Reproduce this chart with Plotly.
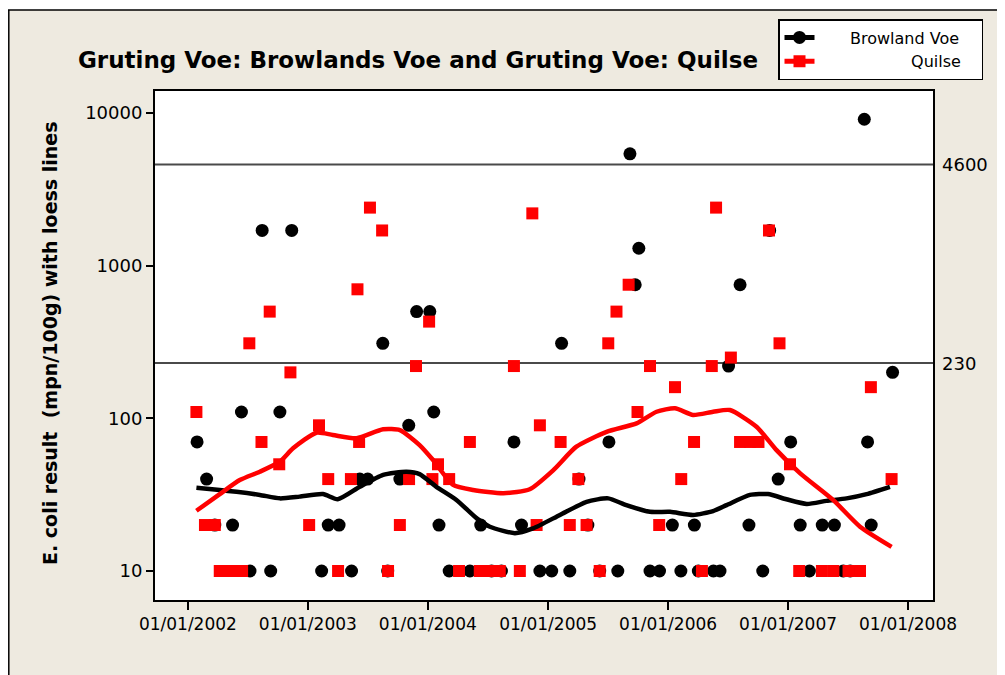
import numpy as np
import plotly.graph_objects as go

# ---------------- data ----------------
browland_dates = [
    "2002-01-29", "2002-02-27", "2002-03-24", "2002-05-17", "2002-06-13", "2002-07-09",
    "2002-08-15", "2002-09-10", "2002-10-08", "2002-11-13", "2003-02-12", "2003-03-04",
    "2003-04-06", "2003-05-14", "2003-06-08", "2003-07-02", "2003-08-17", "2003-09-01",
    "2003-10-08", "2003-11-04", "2003-11-28", "2004-01-07", "2004-01-19", "2004-02-04",
    "2004-03-06", "2004-05-08", "2004-06-10", "2004-07-13", "2004-08-12", "2004-09-19",
    "2004-10-12", "2004-12-07", "2005-01-12", "2005-02-11", "2005-03-08", "2005-04-05",
    "2005-05-02", "2005-06-07", "2005-07-05", "2005-08-01", "2005-09-07", "2005-09-23",
    "2005-10-04", "2005-11-07", "2005-12-06", "2006-01-14", "2006-02-09", "2006-03-22",
    "2006-04-03", "2006-05-19", "2006-06-08", "2006-07-04", "2006-08-08", "2006-09-04",
    "2006-10-16", "2006-11-06", "2006-12-02", "2007-01-09", "2007-02-07", "2007-03-07",
    "2007-04-15", "2007-05-22", "2007-06-18", "2007-07-09", "2007-08-21", "2007-08-31",
    "2007-09-11", "2007-11-15",
]
browland_values = [
    70, 40, 20, 20, 110, 10,
    1700, 10, 110, 1700, 10, 20,
    20, 10, 40, 40, 310, 10,
    40, 90, 500, 500, 110, 20,
    10, 10, 20, 10, 10, 70,
    20, 10, 10, 310, 10, 40,
    20, 10, 70, 10, 5400, 750,
    1300, 10, 10, 20, 10, 20,
    10, 10, 10, 220, 750, 20,
    10, 1700, 40, 70, 20, 10,
    20, 20, 10, 10, 9100, 70,
    20, 200,
]

quilse_dates = [
    "2002-01-27", "2002-02-22", "2002-03-24", "2002-04-08", "2002-05-09", "2002-05-29",
    "2002-06-15", "2002-07-07", "2002-08-13", "2002-09-07", "2002-10-06", "2002-11-09",
    "2003-01-05", "2003-02-04", "2003-03-04", "2003-04-03", "2003-05-12", "2003-06-01",
    "2003-06-06", "2003-07-09", "2003-08-15", "2003-09-02", "2003-10-08", "2003-11-05",
    "2003-11-26", "2004-01-05", "2004-01-15", "2004-02-01", "2004-03-06", "2004-04-05",
    "2004-05-08", "2004-06-07", "2004-07-08", "2004-08-07", "2004-09-19", "2004-10-07",
    "2004-11-14", "2004-11-27", "2004-12-07", "2005-02-08", "2005-03-08", "2005-04-03",
    "2005-04-28", "2005-06-07", "2005-07-03", "2005-07-28", "2005-09-03", "2005-09-30",
    "2005-11-07", "2005-12-05", "2006-01-22", "2006-02-10", "2006-03-21", "2006-04-14",
    "2006-05-14", "2006-05-27", "2006-07-11", "2006-08-08", "2006-09-07", "2006-10-03",
    "2006-11-04", "2006-12-06", "2007-01-07", "2007-02-04", "2007-04-14", "2007-05-19",
    "2007-07-04", "2007-08-08", "2007-09-10", "2007-11-12",
]
quilse_values = [
    110, 20, 20, 10, 10, 10,
    10, 310, 70, 500, 50, 200,
    20, 90, 40, 10, 40, 700,
    70, 2400, 1700, 10, 20, 40,
    220, 430, 40, 50, 40, 10,
    70, 10, 10, 10, 220, 10,
    2200, 20, 90, 70, 20, 40,
    20, 10, 310, 500, 750, 110,
    220, 20, 160, 40, 70, 10,
    220, 2400, 250, 70, 70, 70,
    1700, 310, 50, 10, 10, 10,
    10, 10, 160, 40,
]

browland_loess_dates = [
    "2002-01-27", "2002-04-08", "2002-05-29", "2002-08-08", "2002-10-08", "2002-12-07",
    "2003-02-16", "2003-04-02", "2003-06-08", "2003-08-18", "2003-10-28", "2003-12-07",
    "2004-01-27", "2004-03-28", "2004-05-29", "2004-07-08", "2004-09-22", "2004-11-16",
    "2005-02-06", "2005-04-28", "2005-07-03", "2005-08-27", "2005-11-07", "2006-01-07",
    "2006-03-18", "2006-05-18", "2006-06-28", "2006-09-07", "2006-11-01", "2006-12-27",
    "2007-02-27", "2007-04-28", "2007-06-28", "2007-08-28", "2007-11-07",
]
browland_loess_values = [
    35.1, 33.9, 33.0, 31.5, 29.9, 30.7,
    31.9, 29.5, 35.6, 42.6, 44.7, 43.1,
    35.6, 29.2, 22.1, 19.5, 17.7, 19.0,
    23.3, 28.4, 29.9, 27.0, 24.4, 24.4,
    23.3, 24.7, 27.0, 31.5, 31.9, 29.5,
    27.5, 28.8, 29.9, 31.9, 35.6,
]

quilse_loess_dates = [
    "2002-01-27", "2002-04-08", "2002-06-08", "2002-08-08", "2002-10-08", "2002-11-17",
    "2003-01-27", "2003-03-18", "2003-05-29", "2003-08-18", "2003-10-08", "2003-12-07",
    "2004-01-17", "2004-03-18", "2004-05-18", "2004-08-18", "2004-11-06", "2005-01-17",
    "2005-03-28", "2005-06-28", "2005-09-27", "2005-11-27", "2006-01-22", "2006-03-18",
    "2006-05-18", "2006-07-08", "2006-09-27", "2006-11-27", "2007-02-07", "2007-05-18",
    "2007-08-08", "2007-11-12",
]
quilse_loess_values = [
    24.8, 31.9, 39.4, 44.7, 52.0, 63.6,
    80.5, 77.8, 74.0, 84.8, 83.8, 66.8,
    53.3, 36.6, 33.9, 32.3, 34.3, 45.8,
    65.2, 81.6, 92.7, 110.4, 116.3, 105.2,
    110.4, 113.3, 88.1, 61.9, 43.6, 29.2,
    19.5, 14.4,
]

reference_levels = [4600, 230]
reference_labels = ["4600", "230"]
x_range = ["2001-09-23", "2008-03-17"]
y_tick_values = [10, 100, 1000, 10000]
y_tick_labels = ["10", "100", "1000", "10000"]

title_text = "Gruting Voe: Browlands Voe and Gruting Voe: Quilse"
y_title_text = "E. coli result\u00a0\u00a0(mpn/100g) with loess lines"

# ---------------- geometry (page pixels -> paper) ----------------
OFF = 8                       # page body margin around the plot div
W, H = 1005 - OFF, 675 - OFF  # figure size that fits the window
PL, PR, PT, PB = 155, 933, 91, 600   # plot area in page pixels
L, T = PL - OFF, PT - OFF
R, B = W - (PR - OFF), H - (PB - OFF)
PW, PH = W - L - R, H - T - B


def px(x):
    return (x - OFF - L) / PW


def py(y):
    return (H - B - (y - OFF)) / PH


FONT = "DejaVu Sans"
BEIGE = "#EEEAE0"

fig = go.Figure()

for lvl in reference_levels:
    fig.add_trace(go.Scatter(
        x=x_range, y=[lvl, lvl], mode="lines",
        line=dict(color="#4a4a4a", width=2), showlegend=False, hoverinfo="skip"))

fig.add_trace(go.Scatter(
    x=browland_dates, y=browland_values, mode="markers",
    marker=dict(symbol="circle", size=13, color="black"), showlegend=False))
fig.add_trace(go.Scatter(
    x=quilse_dates, y=quilse_values, mode="markers",
    marker=dict(symbol="square", size=12, color="#FF0000"), showlegend=False))
fig.add_trace(go.Scatter(
    x=browland_loess_dates, y=browland_loess_values, mode="lines",
    line=dict(color="black", width=4.5, shape="spline", smoothing=0.6), showlegend=False))
fig.add_trace(go.Scatter(
    x=quilse_loess_dates, y=quilse_loess_values, mode="lines",
    line=dict(color="#FF0000", width=4.5, shape="spline", smoothing=0.6), showlegend=False))

nb = "\u00a0"
fig.add_trace(go.Scatter(
    x=[None], y=[None], mode="lines+markers", name=nb * 6 + "Browland Voe" + nb * 3,
    line=dict(color="black", width=5), marker=dict(symbol="circle", size=13, color="black")))
fig.add_trace(go.Scatter(
    x=[None], y=[None], mode="lines+markers", name=nb * 18 + "Quilse" + nb * 3,
    line=dict(color="#FF0000", width=5), marker=dict(symbol="square", size=12, color="#FF0000")))

annotations = []
for lvl, lab in zip(reference_levels, reference_labels):
    annotations.append(dict(
        x=1, xref="paper", y=np.log10(lvl), yref="y", text=lab, showarrow=False,
        xanchor="left", yanchor="middle", xshift=7,
        font=dict(family=FONT, size=18, color="black")))
annotations.append(dict(
    x=px(50), xref="paper", y=py(343), yref="paper", text=y_title_text, textangle=-90,
    showarrow=False, xanchor="center", yanchor="middle",
    font=dict(family=FONT, size=19, color="black", weight="bold")))

shapes = [
    dict(type="rect", xref="paper", yref="paper", x0=px(0), x1=px(1100), y0=py(10), y1=py(0),
         fillcolor="white", line=dict(width=0), layer="below"),
    dict(type="line", xref="paper", yref="paper", x0=px(8.8), x1=px(8.8), y0=py(10), y1=py(700),
         line=dict(color="black", width=1.5)),
    dict(type="line", xref="paper", yref="paper", x0=px(8), x1=px(1100), y0=py(10), y1=py(10),
         line=dict(color="black", width=1.5)),
]

fig.update_layout(
    width=W, height=H,
    margin=dict(l=L, r=R, t=T, b=B, autoexpand=False),
    paper_bgcolor=BEIGE, plot_bgcolor="white",
    font=dict(family=FONT, size=17, color="black"),
    title=dict(text=title_text, x=px(418), xref="paper", xanchor="center",
               y=1 - (60 - OFF) / H, yref="container", yanchor="middle",
               font=dict(family=FONT, size=23, color="black", weight="bold")),
    legend=dict(x=px(778), y=py(19), xanchor="left", yanchor="top",
                bgcolor="white", bordercolor="black", borderwidth=1.5,
                font=dict(family=FONT, size=16, color="black"),
                itemwidth=30, tracegroupgap=2),
    annotations=annotations,
    shapes=shapes,
    showlegend=True,
)

fig.update_xaxes(
    type="date", range=x_range, tick0="2002-01-01", dtick="M12", tickformat="%d/%m/%Y",
    showgrid=False, zeroline=False, showline=True, linecolor="black", linewidth=2, mirror=True,
    ticks="outside", ticklen=8, tickwidth=1.5, tickcolor="black",
    tickfont=dict(family=FONT, size=17, color="black"))
fig.update_yaxes(
    type="log", range=[0.81, 4.144], tickvals=y_tick_values, ticktext=y_tick_labels,
    showgrid=False, zeroline=False, showline=True, linecolor="black", linewidth=2, mirror=True,
    ticks="outside", ticklen=7, tickwidth=1.5, tickcolor="black",
    tickfont=dict(family=FONT, size=18, color="black"))

fig.write_html("out.html")
